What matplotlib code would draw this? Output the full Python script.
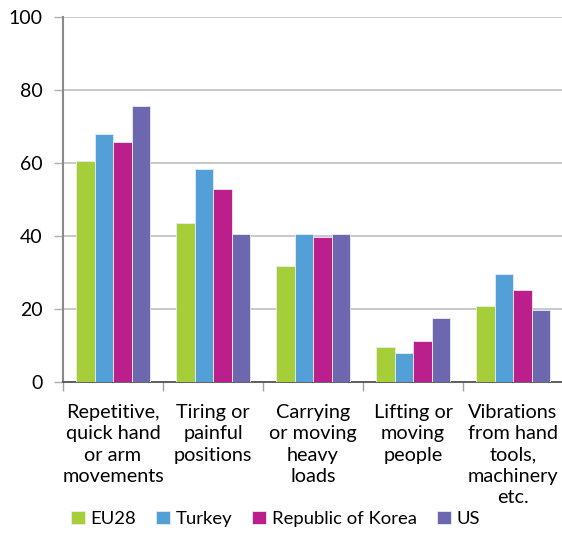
import numpy as np
import matplotlib
matplotlib.use("Agg")
import matplotlib.pyplot as plt

categories = ["Repetitive,\nquick hand\nor arm\nmovements", "Tiring or\npainful\npositions",
              "Carrying\nor moving\nheavy\nloads", "Lifting or\nmoving\npeople",
              "Vibrations\nfrom hand\ntools,\nmachinery\netc."]
series = ["EU28", "Turkey", "Republic of Korea", "US"]
eu28 = [60.7, 43.5, 31.8, 9.6, 20.8]
turkey = [67.9, 58.5, 40.7, 8.0, 29.6]
korea = [65.7, 52.9, 39.7, 11.3, 25.1]
us = [75.8, 40.7, 40.7, 17.5, 19.7]
colors = ["#a6ce39", "#539fd7", "#bb1f8b", "#6c67ae"]

plt.rcParams['font.family'] = ['Lato', 'DejaVu Sans']

fig = plt.figure(figsize=(5.62, 5.34), dpi=100)
ax = fig.add_axes([63/562, 152/534, 500/562, 364.7/534])

x = np.arange(len(categories))
w = 0.185
for k, vals in enumerate([eu28, turkey, korea, us]):
    ax.bar(x + (k - 1.5) * w, vals, w, color=colors[k], label=series[k],
           edgecolor="#e8ecf4", linewidth=0.6, zorder=3)

ax.set_ylim(0, 100)
ax.set_xlim(-0.5, 4.5)
ax.set_yticks(range(0, 101, 20))
ax.tick_params(axis="y", labelsize=14, length=6.5, color="#b0b0b0", pad=8, width=1)
ax.grid(axis="y", color="#c0c0c0", linewidth=1.2, zorder=0)

ax.set_xticks(np.arange(-0.5, 5, 1))
ax.set_xticklabels([])
ax.set_xticks(x, minor=True)
ax.set_xticklabels(categories, minor=True, fontsize=14.3, linespacing=1.3, va="top")
ax.tick_params(axis="x", which="major", length=6.5, color="#a0a0a0", width=1)
ax.tick_params(axis="x", which="minor", length=0, pad=16)

for s in ["top", "right"]:
    ax.spines[s].set_visible(False)
ax.spines["left"].set_color("#8a8a8a")
ax.spines["left"].set_linewidth(1.5)
ax.spines["bottom"].set_color("#555555")
ax.spines["bottom"].set_linewidth(1.3)

fig.legend(loc="lower center", bbox_to_anchor=(0.49, -0.018), ncol=4, frameon=False,
           fontsize=13.3, handlelength=0.75, handleheight=0.75, handletextpad=0.3,
           columnspacing=1.1)

fig.savefig("out.png", dpi=100)
